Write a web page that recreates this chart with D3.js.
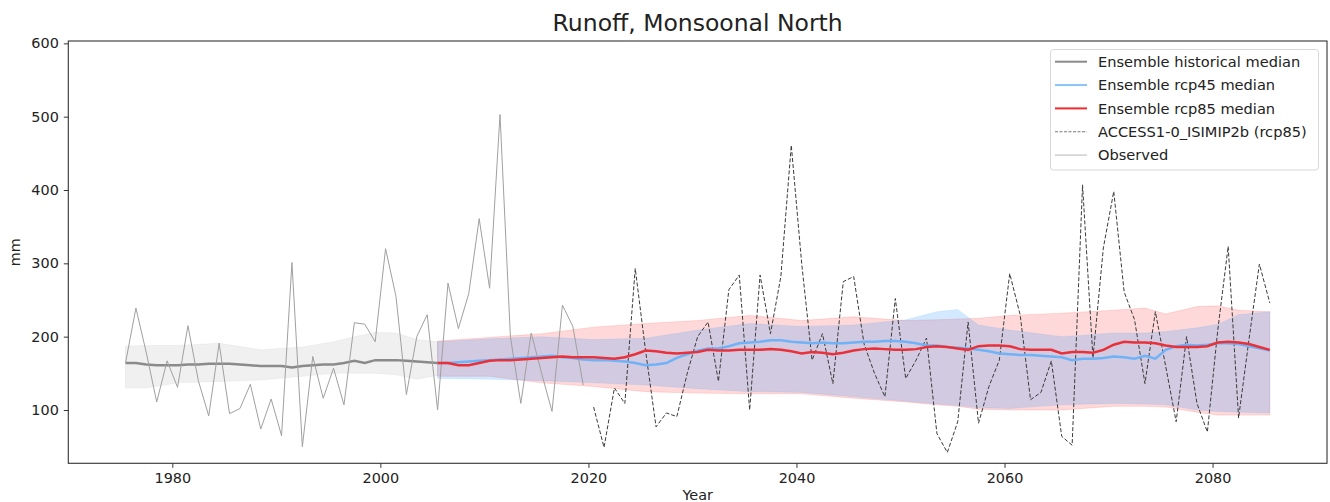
<!DOCTYPE html>
<html>
<head>
<meta charset="utf-8">
<script src="https://cdn.jsdelivr.net/npm/d3@7"></script>
<style>
  body { margin: 0; background: #fff; }
  text { font-family: "DejaVu Sans", sans-serif; }
</style>
</head>
<body>
<div id="chart"></div>
<script>
// ---- data, one value per year, drawn at mid-year ----
var obsStart = 1975
var observed = [164, 239, 178, 111, 167, 131, 215, 140, 92, 191,
                95, 102, 135, 74, 115, 65, 301, 50, 173, 116,
                157, 107, 219, 217, 193, 320, 255, 121, 200, 230,
                100, 273, 211, 259, 361, 266, 503, 200, 109, 205,
                150, 98, 243, 214, 134]

var accessStart = 2020
var accessRcp85 = [104, 49, 130, 109, 293, 180, 77, 96, 91, 150,
                   200, 220, 139, 264, 284, 100, 284, 204, 282, 461,
                   300, 168, 204, 136, 275, 282, 190, 150, 118, 252,
                   143, 168, 198, 68, 42, 84, 220, 82, 132, 168,
                   286, 230, 114, 124, 167, 64, 52, 407, 171, 321,
                   398, 261, 223, 136, 234, 159, 84, 200, 109, 70,
                   209, 323, 89, 196, 299, 246]

var histStart = 1975
var histMedian = [164, 164, 162, 161, 161, 161, 162, 162, 163, 163,
                  163, 162, 161, 160, 160, 160, 158, 160, 161, 162,
                  162, 164, 167, 164, 168, 168, 168, 167, 166, 165, 164]
var histBandYears = [1975, 1977, 1980, 1984, 1988, 1992, 1995, 1997, 1999, 2001, 2003, 2005]
var histHigh = [187, 188, 188, 191, 182, 186, 193, 200, 206, 205, 196, 193]
var histLow  = [130, 130, 137, 139, 141, 146, 150, 150, 150, 148, 142, 147]

var futStart = 2005
var rcp85Median = [164, 164, 161, 161, 164, 167, 168, 168, 169, 170,
                   171, 172, 173, 172, 172, 172, 171, 170, 172, 176,
                   181, 180, 178, 177, 178, 179, 182, 181, 181, 182,
                   182, 182, 183, 182, 180, 177, 179, 178, 176, 178,
                   181, 183, 184, 183, 182, 182, 183, 186, 187, 186,
                   184, 182, 187, 188, 188, 187, 183, 182, 182, 182,
                   177, 179, 179, 178, 182, 189, 193, 192, 192, 191,
                   188, 186, 186, 186, 187, 192, 193, 192, 190, 186, 182]
var rcp45Median = [164, 164, 165, 166, 167, 168, 169, 170, 171, 172,
                   173, 174, 172, 171, 169, 168, 168, 167, 166, 164,
                   161, 162, 164, 171, 176, 181, 184, 184, 187, 191,
                   192, 193, 195, 195, 193, 192, 191, 192, 191, 191,
                   192, 193, 193, 194, 194, 193, 191, 188, 188, 186,
                   185, 184, 182, 180, 177, 176, 175, 175, 174, 173,
                   172, 168, 170, 170, 171, 173, 172, 170, 174, 170,
                   182, 187, 189, 188, 189, 191, 191, 190, 187, 184, 181]

var futBandYears = [2005, 2010, 2015, 2020, 2025, 2030, 2035, 2040, 2045, 2050, 2053,
                    2055, 2057, 2060, 2065, 2070, 2073, 2075, 2078, 2080, 2082, 2085]
var rcp85High = [194, 199, 204, 213, 218, 222, 229, 222, 227, 222, 223,
                 224, 225, 229, 232, 236, 239, 231, 241, 242, 236, 234]
var rcp85Low  = [146, 146, 137, 132, 125, 123, 122, 122, 116, 111, 107,
                 105, 101, 100, 100, 105, 105, 104, 97, 93, 93, 93]
var rcp45High = [193, 197, 200, 196, 198, 209, 218, 214, 216, 223, 234,
                 237, 216, 209, 200, 205, 205, 207, 212, 217, 230, 234]
var rcp45Low  = [143, 142, 140, 137, 134, 129, 125, 124, 118, 112, 108,
                 106, 103, 102, 107, 109, 108, 107, 100, 98, 97, 96]

var xTicks = [1980, 2000, 2020, 2040, 2060, 2080]
var yTicks = [100, 200, 300, 400, 500, 600]
var legendLabels = ["Ensemble historical median", "Ensemble rcp45 median",
                    "Ensemble rcp85 median", "ACCESS1-0_ISIMIP2b (rcp85)", "Observed"]

// ---- helpers ----
function series(start, vals) {
  return vals.map(function(v, i) { return {year: start + i, v: v} })
}
function band(years, hi, lo) {
  return years.map(function(y, i) { return {year: y, hi: hi[i], lo: lo[i]} })
}

// ---- svg ----
var W = 1330, H = 502
var plot = {left: 68.3, right: 1327, top: 41, bottom: 463.3}

var svg = d3.select("#chart").append("svg")
    .attr("width", W)
    .attr("height", H)

var x = d3.scaleLinear().domain([1970, 2091]).range([plot.left, plot.right])
var y = d3.scaleLinear().domain([27.3, 603.2]).range([plot.bottom, plot.top])

// mid-year positions
var line = d3.line()
    .x(function(d) { return x(d.year + 0.5) })
    .y(function(d) { return y(d.v) })
var area = d3.area()
    .x(function(d) { return x(d.year + 0.5) })
    .y0(function(d) { return y(d.lo) })
    .y1(function(d) { return y(d.hi) })

var g = svg.append("g")

// bands
g.append("path").datum(band(histBandYears, histHigh, histLow))
    .attr("d", area)
    .attr("fill", "#808080").attr("fill-opacity", 0.12)
    .attr("stroke", "#808080").attr("stroke-opacity", 0.08).attr("stroke-width", 1)

g.append("path").datum(band(futBandYears, rcp85High, rcp85Low))
    .attr("d", area)
    .attr("fill", "#ff0000").attr("fill-opacity", 0.15)
    .attr("stroke", "#ff0000").attr("stroke-opacity", 0.12).attr("stroke-width", 1)

g.append("path").datum(band(futBandYears, rcp45High, rcp45Low))
    .attr("d", area)
    .attr("fill", "#1e90ff").attr("fill-opacity", 0.2)
    .attr("stroke", "#1e90ff").attr("stroke-opacity", 0.1).attr("stroke-width", 1)

// historical median
g.append("path").datum(series(histStart, histMedian))
    .attr("d", line)
    .attr("fill", "none").attr("stroke", "#8a8a8a").attr("stroke-width", 2.5)

// observed
g.append("path").datum(series(obsStart, observed))
    .attr("d", line)
    .attr("fill", "none").attr("stroke", "#a0a0a0").attr("stroke-width", 1)

// single model run
g.append("path").datum(series(accessStart, accessRcp85))
    .attr("d", line)
    .attr("fill", "none").attr("stroke", "#3a3a3a").attr("stroke-width", 1)
    .attr("stroke-dasharray", "4,2")

// future medians
g.append("path").datum(series(futStart, rcp45Median))
    .attr("d", line)
    .attr("fill", "none").attr("stroke", "#6fb2f7").attr("stroke-width", 2.5)

g.append("path").datum(series(futStart, rcp85Median))
    .attr("d", line)
    .attr("fill", "none").attr("stroke", "#ea3038").attr("stroke-width", 2.5)

// ---- axes ----
var xAxis = svg.append("g")
    .attr("transform", "translate(0," + plot.bottom + ")")
    .call(d3.axisBottom(x).tickValues(xTicks).tickFormat(d3.format("d")).tickSize(4.5).tickPadding(5))
var yAxis = svg.append("g")
    .attr("transform", "translate(" + plot.left + ",0)")
    .call(d3.axisLeft(y).tickValues(yTicks).tickSize(4.5).tickPadding(5))

svg.selectAll(".domain").remove()
svg.selectAll(".tick line").attr("stroke", "#333")
svg.selectAll(".tick text")
    .attr("fill", "#222")
    .style("font-family", "DejaVu Sans")
    .style("font-size", "14.4px")

// frame
svg.append("rect")
    .attr("x", plot.left).attr("y", plot.top)
    .attr("width", plot.right - plot.left).attr("height", plot.bottom - plot.top)
    .attr("fill", "none").attr("stroke", "#333").attr("stroke-width", 1.1)

// title and labels
svg.append("text")
    .attr("x", (plot.left + plot.right) / 2).attr("y", 31)
    .attr("text-anchor", "middle")
    .style("font-size", "23.5px").attr("fill", "#222")
    .text("Runoff, Monsoonal North")

svg.append("text")
    .attr("transform", "translate(20," + ((plot.top + plot.bottom) / 2) + ")rotate(-90)")
    .attr("text-anchor", "middle")
    .style("font-size", "14.4px").attr("fill", "#222")
    .text("mm")

// x label at the bottom edge, kept just inside the page
svg.append("text")
    .attr("x", (plot.left + plot.right) / 2).attr("y", 500)
    .attr("text-anchor", "middle")
    .style("font-size", "14.4px").attr("fill", "#222")
    .text("Year")

// ---- legend ----
var legendStyles = [
  {stroke: "#8a8a8a", width: 2, dash: null},
  {stroke: "#8cc4f8", width: 2, dash: null},
  {stroke: "#f02a30", width: 2, dash: null},
  {stroke: "#777", width: 1, dash: "3,1.5"},
  {stroke: "#cfcfcf", width: 1.5, dash: null}
]
var lg = svg.append("g")
lg.append("rect")
    .attr("x", 1050.5).attr("y", 49.5).attr("width", 268).attr("height", 120.5)
    .attr("rx", 3).attr("fill", "#fff").attr("fill-opacity", 0.8)
    .attr("stroke", "#d8d8d8").attr("stroke-width", 1)

var rows = lg.selectAll("g.row")
    .data(legendLabels)
    .enter().append("g")
    .attr("transform", function(d, i) { return "translate(0," + (61.7 + i * 23.35) + ")" })
rows.append("line")
    .attr("x1", 1055).attr("x2", 1087)
    .attr("stroke", function(d, i) { return legendStyles[i].stroke })
    .attr("stroke-width", function(d, i) { return legendStyles[i].width })
    .attr("stroke-dasharray", function(d, i) { return legendStyles[i].dash })
rows.append("text")
    .attr("x", 1098).attr("dy", "0.35em")
    .style("font-size", "14.6px").attr("fill", "#222")
    .text(function(d) { return d })
</script>
</body>
</html>
